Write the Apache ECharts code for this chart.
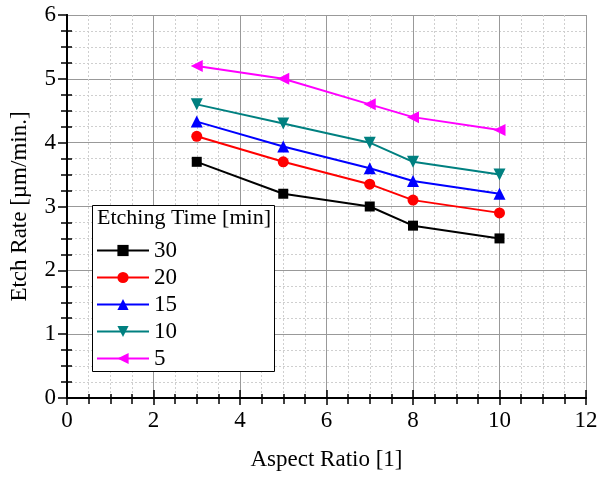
<!DOCTYPE html>
<html>
<head>
<meta charset="utf-8">
<script src="https://cdn.jsdelivr.net/npm/echarts@6/dist/echarts.min.js"></script>
<style>html,body{margin:0;padding:0;background:#fff}#c{width:601px;height:479px}</style>
</head>
<body>
<div id="c"></div>
<script>
const aspectRatio = [3, 5, 7, 8, 10];
const seriesNames = ['30', '20', '15', '10', '5'];
const rate30 = [3.7, 3.2, 3.0, 2.7, 2.5];
const rate20 = [4.1, 3.7, 3.35, 3.1, 2.9];
const rate15 = [4.33, 3.94, 3.6, 3.4, 3.2];
const rate10 = [4.6, 4.3, 4.0, 3.7, 3.5];
const rate5 = [5.2, 5.0, 4.6, 4.4, 4.2];
const xTitle = 'Aspect Ratio [1]';
const yTitle = 'Etch Rate [µm/min.]';
const legendTitle = 'Etching Time [min]';

const FONT = 'Liberation Serif';
const colors = ['#000000', '#ff0000', '#0000ff', '#008080', '#ff00ff'];
const symbols = ['rect', 'circle', 'triangle', 'triangle', 'triangle'];
const rotates = [0, 0, 0, 180, 90];
const sizes = [10, 11, 12, 12, 12];
const allRates = [rate30, rate20, rate15, rate10, rate5];

const chart = echarts.init(document.getElementById('c'), null, {renderer: 'canvas'});

const series = seriesNames.map((n, i) => ({
  name: n,
  type: 'line',
  data: aspectRatio.map((x, j) => [x, allRates[i][j]]),
  symbol: symbols[i],
  symbolRotate: rotates[i],
  symbolSize: sizes[i],
  showAllSymbol: true,
  lineStyle: {color: colors[i], width: 2},
  itemStyle: {color: colors[i]},
  z: 5
}));

const tickStyle = {color: '#000', width: 1.5};
function extraAxis(pos, min, max, interval, inside, len, minorLen) {
  return {
    type: 'value', min: min, max: max, interval: interval, position: pos,
    axisLine: {show: false},
    axisTick: {show: true, inside: inside, length: len, lineStyle: tickStyle},
    minorTick: {show: true, splitNumber: 4, length: minorLen, lineStyle: tickStyle},
    axisLabel: {show: false}, splitLine: {show: false}
  };
}
const xMin = 0, xMax = 12, xInt = 2, yMin = 0, yMax = 6, yInt = 1;
chart.setOption({
  animation: false,
  backgroundColor: '#fff',
  grid: {left: 67, right: 15, top: 15, bottom: 81, containLabel: false, outerBoundsMode: 'none'},
  xAxis: [{
    type: 'value', min: xMin, max: xMax, interval: xInt, position: 'bottom',
    name: xTitle, nameLocation: 'middle', nameGap: 50,
    nameTextStyle: {fontFamily: FONT, fontSize: 23, color: '#000'},
    axisLine: {show: true, lineStyle: {color: '#000', width: 2}},
    axisTick: {show: true, inside: true, length: 8, lineStyle: tickStyle},
    minorTick: {show: true, splitNumber: 4, length: 4, lineStyle: tickStyle},
    axisLabel: {fontFamily: FONT, fontSize: 23, color: '#000', margin: 11},
    splitLine: {show: true, lineStyle: {color: '#999', width: 1}},
    minorSplitLine: {show: true, lineStyle: {color: '#cfcfcf', width: 1, type: [2, 2]}}
  }, {
    type: 'value', min: xMin, max: xMax, interval: xInt, position: 'top',
    axisLine: {show: true, lineStyle: {color: '#000', width: 2}},
    axisTick: {show: true, inside: true, length: 7, lineStyle: tickStyle},
    minorTick: {show: true, splitNumber: 4, length: 6, lineStyle: tickStyle},
    axisLabel: {show: false}, splitLine: {show: false}
  },
  extraAxis('bottom', xMin, xMax, xInt, false, 6, 4)
  ],
  yAxis: [{
    type: 'value', min: yMin, max: yMax, interval: yInt, position: 'left',
    name: yTitle, nameLocation: 'middle', nameGap: 36,
    nameTextStyle: {fontFamily: FONT, fontSize: 23, color: '#000'},
    axisLine: {show: true, lineStyle: {color: '#000', width: 2}},
    axisTick: {show: true, inside: false, length: 9, lineStyle: tickStyle},
    minorTick: {show: true, splitNumber: 4, length: 2, lineStyle: tickStyle},
    axisLabel: {fontFamily: FONT, fontSize: 23, color: '#000', margin: 11},
    splitLine: {show: true, lineStyle: {color: '#999', width: 1}},
    minorSplitLine: {show: true, lineStyle: {color: '#cfcfcf', width: 1, type: [2, 2]}}
  }, {
    type: 'value', min: yMin, max: yMax, interval: yInt, position: 'right',
    axisLine: {show: true, lineStyle: {color: '#000', width: 2}},
    axisTick: {show: true, inside: true, length: 7, lineStyle: tickStyle},
    minorTick: {show: true, splitNumber: 4, length: 6, lineStyle: tickStyle},
    axisLabel: {show: false}, splitLine: {show: false}
  },
  extraAxis('left', yMin, yMax, yInt, true, 0.1, 5)
  ],
  legend: {
    orient: 'vertical', left: 96, top: 239, z: 20, padding: 0,
    itemWidth: 52, itemHeight: 14, itemGap: 4,
    textStyle: {fontFamily: FONT, fontSize: 23, color: '#000'},
    data: seriesNames
  },
  graphic: [{
    type: 'rect', left: 92, top: 205, z: 10, silent: true,
    shape: {width: 182, height: 166},
    style: {fill: '#fff', stroke: '#000', lineWidth: 1}
  }, {
    type: 'text', left: 97, top: 207, z: 12,
    style: {text: legendTitle, font: '22px "Liberation Serif"', fill: '#000'}
  }],
  series: series
});
</script>
</body>
</html>
